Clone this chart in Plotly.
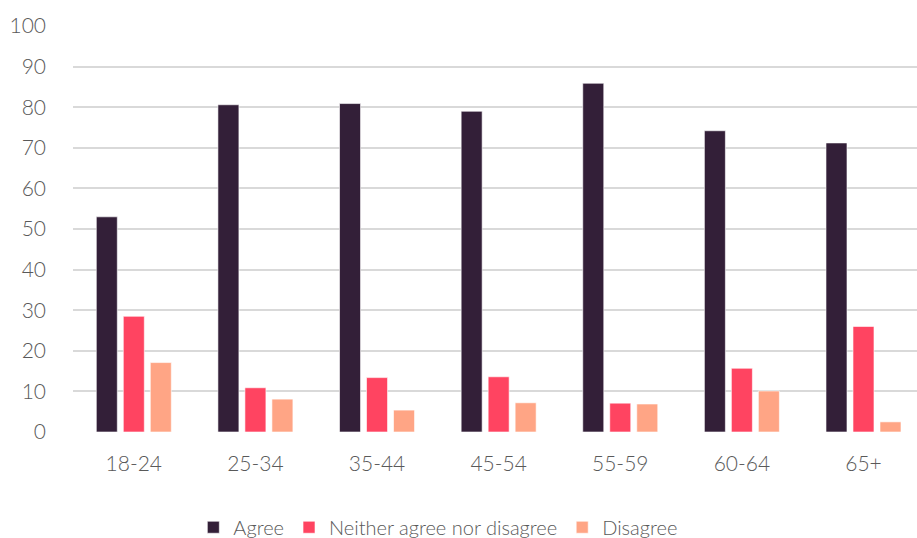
import plotly.graph_objects as go

# Survey responses by age band (percent)
age_groups = ["18-24", "25-34", "35-44", "45-54", "55-59", "60-64", "65+"]
agree = [53.0, 80.6, 80.9, 79.0, 85.9, 74.2, 71.2]
neither = [28.5, 10.9, 13.4, 13.6, 7.1, 15.7, 26.0]
disagree = [17.1, 8.1, 5.4, 7.2, 6.9, 10.1, 2.5]

series = [
    ("Agree", agree, "#331F38"),
    ("Neither agree nor disagree", neither, "#FF4461"),
    ("Disagree", disagree, "#FFA585"),
]

fig = go.Figure()
for name, vals, color in series:
    fig.add_trace(go.Bar(
        x=age_groups, y=vals, name=name,
        marker=dict(color=color, line=dict(color="rgba(255,255,255,0.6)", width=1)),
    ))

font_family = "Lato, 'Open Sans', sans-serif"
label_font = dict(family=font_family, size=21, color="#595959", weight=300)
legend_font = dict(family=font_family, size=20, color="#595959", weight=300)

fig.update_layout(
    width=917, height=538,
    margin=dict(l=73, r=0, t=26, b=106),
    paper_bgcolor="white", plot_bgcolor="white",
    barmode="group", bargap=0.334, bargroupgap=0.222,
    font=label_font,
    showlegend=True,
    legend=dict(
        orientation="h", xref="container", x=0.478, xanchor="center",
        yref="container", y=0.02, yanchor="middle",
        font=legend_font,
        itemwidth=30, tracegroupgap=0,
    ),
    xaxis=dict(
        range=[-0.5, 6.44], showgrid=False, zeroline=False,
        showline=False, ticks="", tickfont=label_font,
        ticklabelstandoff=17,
    ),
    yaxis=dict(
        range=[0, 100], dtick=10, showgrid=True, gridcolor="#D9D9D9",
        gridwidth=2, zeroline=False, showline=False, ticks="",
        tickfont=label_font, ticklabelstandoff=26,
    ),
)

fig.write_html("out.html")
